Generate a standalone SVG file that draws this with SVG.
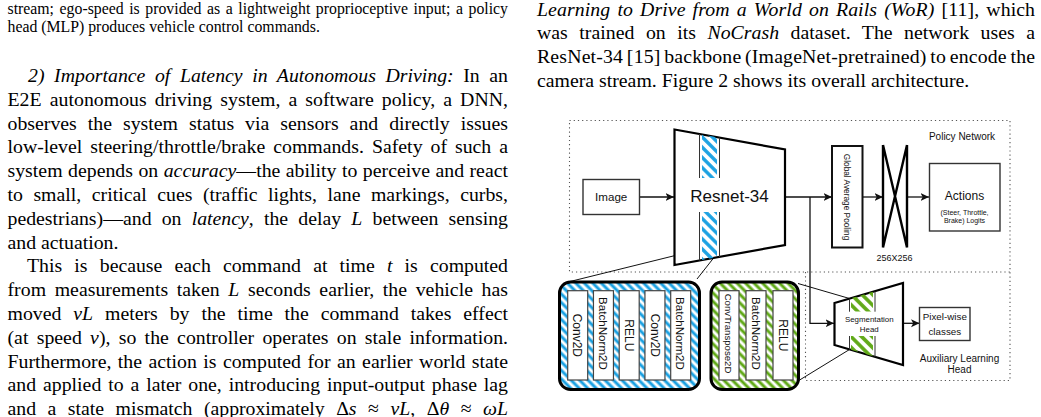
<svg xmlns="http://www.w3.org/2000/svg" width="1041" height="417" viewBox="0 0 1041 417">
<style>
.tx{font-family:"Liberation Serif","Times New Roman",serif;font-size:19.8px;fill:#000}
.cap{font-size:15.8px}
.it{font-style:italic}
.d{font-family:"Liberation Sans",Arial,sans-serif;fill:#111}
.dot{fill:none;stroke:#555;stroke-width:1.1;stroke-dasharray:1.2 3}
.box{fill:#fff;stroke:#333;stroke-width:1.4}
.thick{fill:#fff;stroke:#000;stroke-width:2.2;stroke-linejoin:miter}
.conn{fill:none;stroke:#111;stroke-width:1.3}
.zl{fill:none;stroke:#111;stroke-width:1}
.layer{fill:#fff;stroke:#444;stroke-width:1.2}
.strip{fill:none;stroke:#333;stroke-width:1}
</style>
<defs>
<marker id="arr" markerUnits="userSpaceOnUse" markerWidth="9" markerHeight="9" viewBox="0 0 9 9" refX="8.5" refY="4.5" orient="auto">
<path d="M0,0.5 L8.5,4.5 L0,8.5 L2.2,4.5 z" fill="#111"/>
</marker>
<pattern id="hB" patternUnits="userSpaceOnUse" width="6" height="6" patternTransform="rotate(-45)">
<rect width="6" height="6" fill="#fff"/><line x1="3" y1="-1" x2="3" y2="7" stroke="#1BA1E2" stroke-width="3"/>
</pattern>
<pattern id="hG" patternUnits="userSpaceOnUse" width="6" height="6" patternTransform="rotate(-45)">
<rect width="6" height="6" fill="#fff"/><line x1="3" y1="-1" x2="3" y2="7" stroke="#60A917" stroke-width="3"/>
</pattern>
<pattern id="dB" patternUnits="userSpaceOnUse" width="7.2" height="7.2" patternTransform="rotate(-45)">
<line x1="3.6" y1="-1" x2="3.6" y2="9" stroke="#1BA1E2" stroke-width="3.4"/>
</pattern>
<pattern id="dG" patternUnits="userSpaceOnUse" width="7.5" height="7.5" patternTransform="rotate(-45)">
<line x1="3.75" y1="-1" x2="3.75" y2="9" stroke="#60A917" stroke-width="3.6"/>
</pattern>
</defs>
<rect width="1041" height="417" fill="#fff"/>

<g id="left-column">
<text class="tx cap" x="7.5" y="14" word-spacing="1.6" textLength="500.5" lengthAdjust="spacing">stream; ego-speed is provided as a lightweight proprioceptive input; a policy</text>
<text class="tx cap" x="7.5" y="31.8">head (MLP) produces vehicle control commands.</text>
<text class="tx" x="28" y="82" word-spacing="4.6" textLength="480" lengthAdjust="spacing"><tspan class="it">2) Importance of Latency in Autonomous Driving:</tspan> In an</text>
<text class="tx" x="7.5" y="105.8" word-spacing="3.1" textLength="500.5" lengthAdjust="spacing">E2E autonomous driving system, a software policy, a DNN,</text>
<text class="tx" x="7.5" y="129.6" word-spacing="6" textLength="500.5" lengthAdjust="spacing">observes the system status via sensors and directly issues</text>
<text class="tx" x="7.5" y="153.4" word-spacing="3" textLength="500.5" lengthAdjust="spacing">low-level steering/throttle/brake commands. Safety of such a</text>
<text class="tx" x="7.5" y="177.2" word-spacing="0.5" textLength="500.5" lengthAdjust="spacing">system depends on <tspan class="it">accuracy</tspan>—the ability to perceive and react</text>
<text class="tx" x="7.5" y="201" word-spacing="5.5" textLength="500.5" lengthAdjust="spacing">to small, critical cues (traffic lights, lane markings, curbs,</text>
<text class="tx" x="7.5" y="224.8" word-spacing="5.2" textLength="500.5" lengthAdjust="spacing">pedestrians)—and on <tspan class="it">latency</tspan>, the delay <tspan class="it">L</tspan> between sensing</text>
<text class="tx" x="7.5" y="248.6">and actuation.</text>
<text class="tx" x="27" y="272.4" word-spacing="7.2" textLength="481" lengthAdjust="spacing">This is because each command at time <tspan class="it">t</tspan> is computed</text>
<text class="tx" x="7.5" y="296.2" word-spacing="3.6" textLength="500.5" lengthAdjust="spacing">from measurements taken <tspan class="it">L</tspan> seconds earlier, the vehicle has</text>
<text class="tx" x="7.5" y="320" word-spacing="6.9" textLength="500.5" lengthAdjust="spacing">moved <tspan class="it">vL</tspan> meters by the time the command takes effect</text>
<text class="tx" x="7.5" y="343.8" word-spacing="3.3" textLength="500.5" lengthAdjust="spacing">(at speed <tspan class="it">v</tspan>), so the controller operates on stale information.</text>
<text class="tx" x="7.5" y="367.6" word-spacing="1.5" textLength="500.5" lengthAdjust="spacing">Furthermore, the action is computed for an earlier world state</text>
<text class="tx" x="7.5" y="391.4" word-spacing="1.9" textLength="500.5" lengthAdjust="spacing">and applied to a later one, introducing input-output phase lag</text>
<text class="tx" x="7.5" y="414.5" word-spacing="6.6" textLength="500.5" lengthAdjust="spacing">and a state mismatch (approximately Δ<tspan class="it">s</tspan> ≈ <tspan class="it">vL</tspan>, Δ<tspan class="it">θ</tspan> ≈ <tspan class="it">ωL</tspan></text>
</g>

<g id="right-column">
<text class="tx" x="537" y="15.6" word-spacing="2" textLength="498" lengthAdjust="spacing"><tspan class="it">Learning to Drive from a World on Rails (WoR)</tspan> [11], which</text>
<text class="tx" x="537" y="39.2" word-spacing="6.5" textLength="498" lengthAdjust="spacing">was trained on its <tspan class="it">NoCrash</tspan> dataset. The network uses a</text>
<text class="tx" x="537" y="62.9" word-spacing="-1.4" textLength="498" lengthAdjust="spacing">ResNet-34 [15] backbone (ImageNet-pretrained) to encode the</text>
<text class="tx" x="537" y="86.6">camera stream. Figure 2 shows its overall architecture.</text>
</g>

<g id="frames">
<rect class="dot" x="569.5" y="120.5" width="440.5" height="151.5"/>
<path class="dot" d="M805.5,272 V380.5 H1010 V272"/>
</g>

<g id="connectors">
<line class="conn" x1="639.5" y1="197" x2="674" y2="197" marker-end="url(#arr)"/>
<line class="conn" x1="785" y1="197" x2="832" y2="197" marker-end="url(#arr)"/>
<line class="conn" x1="862.5" y1="197" x2="883" y2="197" marker-end="url(#arr)"/>
<line class="conn" x1="907" y1="197" x2="929" y2="197" marker-end="url(#arr)"/>
<path class="conn" d="M810,197 V323.3 H834" marker-end="url(#arr)"/>
<line class="conn" x1="903" y1="323.3" x2="919.5" y2="323.3" marker-end="url(#arr)"/>
<line class="zl" x1="699.5" y1="249.5" x2="566" y2="282.5"/>
<line class="zl" x1="719.5" y1="250.5" x2="697" y2="279"/>
<line class="zl" x1="798" y1="283.5" x2="849.5" y2="298.5"/>
<line class="zl" x1="798" y1="381" x2="849.5" y2="349.5"/>
</g>

<g id="image">
<rect class="box" x="583" y="179.5" width="56.5" height="35"/>
<text class="d" x="611.2" y="201.2" font-size="11.6" text-anchor="middle">Image</text>
</g>

<g id="resnet34">
<path class="thick" d="M674.5,129.5 L785,149.5 L785,245 L674.5,265 Z"/>
<polygon points="702,134.5 717,137.3 717,178 702,178" fill="url(#dB)"/>
<polygon points="702,212 717,212 717,257.3 702,260" fill="url(#dB)"/>
<path class="strip" d="M699.5,134 V178 M719.5,137.6 V178 M699.5,212 V260.5 M719.5,212 V257"/>
<text class="d" x="729.5" y="202.2" font-size="17" text-anchor="middle">Resnet-34</text>
</g>

<g id="gap">
<rect x="832" y="146" width="30.5" height="101.5" fill="#fff" stroke="#111" stroke-width="2"/>
<text class="d" transform="translate(847.2,197) rotate(90)" y="3" font-size="8.3" text-anchor="middle">Global Average Pooling</text>
</g>

<g id="fc">
<path d="M883,145 V247.5 M907,145 V247.5 M883,145 L907,247.5 M907,145 L883,247.5" fill="none" stroke="#000" stroke-width="2.4"/>
<text class="d" x="894.5" y="260.5" font-size="9" text-anchor="middle">256X256</text>
</g>

<g id="actions">
<rect class="box" x="929.5" y="163.5" width="70.5" height="67.5"/>
<text class="d" x="964.5" y="200.4" font-size="12" text-anchor="middle">Actions</text>
<text class="d" x="964.5" y="214.8" font-size="7" text-anchor="middle">(Steer, Throttle,</text>
<text class="d" x="964.5" y="222.6" font-size="7" text-anchor="middle">Brake) Logits</text>
</g>

<g id="policy-label">
<text class="d" x="962" y="139.6" font-size="10" text-anchor="middle">Policy Network</text>
</g>

<g id="residual-block">
<rect x="559.5" y="282" width="140" height="107.5" rx="11" fill="url(#hB)" stroke="#000" stroke-width="3"/>
<rect class="layer" x="567.7" y="290.7" width="20" height="89.3"/>
<rect class="layer" x="593.45" y="290.7" width="20" height="89.3"/>
<rect class="layer" x="619.2" y="290.7" width="20" height="89.3"/>
<rect class="layer" x="644.95" y="290.7" width="20" height="89.3"/>
<rect class="layer" x="670.7" y="290.7" width="20" height="89.3"/>
<text class="d" transform="translate(577.7,335.3) rotate(90)" y="4.3" font-size="12" text-anchor="middle">Conv2D</text>
<text class="d" transform="translate(603.45,333.5) rotate(90)" y="4.3" font-size="11.6" text-anchor="middle">BatchNorm2D</text>
<text class="d" transform="translate(629.2,335.3) rotate(90)" y="4.3" font-size="12" text-anchor="middle">RELU</text>
<text class="d" transform="translate(654.95,335.3) rotate(90)" y="4.3" font-size="12" text-anchor="middle">Conv2D</text>
<text class="d" transform="translate(680.7,333.5) rotate(90)" y="4.3" font-size="11.6" text-anchor="middle">BatchNorm2D</text>
</g>

<g id="upsample-block">
<rect x="711" y="282" width="87.5" height="107.5" rx="11" fill="url(#hG)" stroke="#000" stroke-width="3"/>
<rect class="layer" x="719" y="290.7" width="20" height="89.3"/>
<rect class="layer" x="746" y="290.7" width="20" height="89.3"/>
<rect class="layer" x="773" y="290.7" width="20" height="89.3"/>
<text class="d" transform="translate(729,333.5) rotate(90)" y="3.6" font-size="9.6" text-anchor="middle">ConvTranspose2D</text>
<text class="d" transform="translate(756,333.5) rotate(90)" y="4.3" font-size="11.6" text-anchor="middle">BatchNorm2D</text>
<text class="d" transform="translate(783,335.3) rotate(90)" y="4.3" font-size="12" text-anchor="middle">RELU</text>
</g>

<g id="segmentation-head">
<path class="thick" d="M834.5,303 L903,283 L903,365 L834.5,345 Z"/>
<polygon points="851,298.2 873,291.8 873,311.5 851,311.5" fill="url(#dG)"/>
<polygon points="851,336 873,336 873,356.3 851,349.8" fill="url(#dG)"/>
<path class="strip" d="M849.5,298.8 V311.7 M875,291.4 V311.7 M849.5,336 V349.6 M875,336 V357"/>
<text class="d" x="869.3" y="322.2" font-size="7.9" text-anchor="middle">Segmentation</text>
<text class="d" x="869.3" y="332" font-size="7.9" text-anchor="middle">Head</text>
</g>

<g id="pixel-wise">
<rect class="box" x="919.5" y="307.5" width="50.5" height="33"/>
<text class="d" x="944.8" y="320.3" font-size="9.8" text-anchor="middle">Pixel-wise</text>
<text class="d" x="944.8" y="334.6" font-size="9.8" text-anchor="middle">classes</text>
</g>

<g id="aux-label">
<text class="d" x="959.5" y="362.3" font-size="10" text-anchor="middle">Auxiliary Learning</text>
<text class="d" x="959.5" y="373.2" font-size="10" text-anchor="middle">Head</text>
</g>
</svg>
